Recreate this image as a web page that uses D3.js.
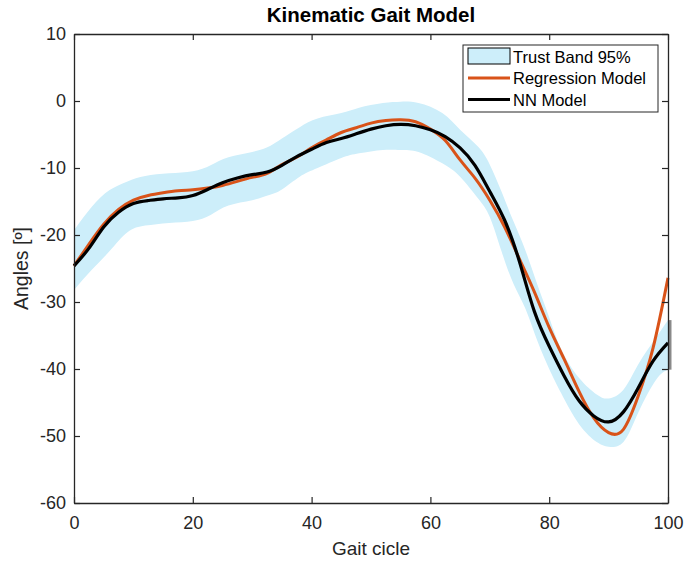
<!DOCTYPE html>
<html>
<head>
<meta charset="utf-8">
<script src="https://cdn.jsdelivr.net/npm/d3@7"></script>
<style>
body { margin:0; background:#fff; }
text { font-family: "Liberation Sans", Arial, Helvetica, sans-serif; }
</style>
</head>
<body>
<div id="chart"></div>
<script>
// gait cycle samples (%) for the two models
var cycle = [0,2.5,5,7.5,10,12.5,15,17.5,20,22.5,25,27.5,30,32.5,35,37.5,40,42.5,45,47.5,50,52.5,55,57.5,60,62.5,65,67.5,70,72.5,75,77.5,80,82.5,85,87.5,90,92.5,95,97.5,100]
var regression = [-24.6,-21.4,-18.4,-16.2,-14.8,-14.1,-13.7,-13.4,-13.25,-13.0,-12.6,-12.0,-11.4,-10.8,-9.5,-8.4,-7.0,-5.8,-4.7,-4.0,-3.3,-2.9,-2.8,-3.1,-4.2,-5.9,-8.8,-11.5,-14.8,-18.8,-23.6,-28.5,-33.8,-38.5,-43.3,-47.3,-49.5,-49.0,-44.0,-36.8,-26.4]
var nn = [-24.6,-22.0,-18.8,-16.6,-15.3,-14.85,-14.6,-14.45,-14.1,-13.2,-12.2,-11.5,-11.0,-10.6,-9.6,-8.3,-7.2,-6.2,-5.6,-4.9,-4.2,-3.7,-3.5,-3.7,-4.3,-5.3,-7.0,-9.6,-13.5,-17.8,-24.0,-31.4,-36.6,-41.0,-44.7,-47.0,-47.9,-46.4,-42.8,-38.8,-36.1]

// trust band 95%
var bandX = [0,3,6,9,12,16,20,23,26,30,33,35,38,41,45,48,52,55,58,62,65,68,70,72,74,76,78,80,82,85,88,90,92.5,95,98,100]
var bandUpper = [-19.3,-15.8,-13.3,-12.0,-11.2,-10.8,-10.5,-9.6,-8.4,-7.6,-6.7,-5.6,-3.9,-2.6,-1.8,-1.0,-0.3,-0.1,-0.3,-1.8,-4.3,-6.8,-9.5,-13.6,-18.0,-22.3,-27.4,-32.3,-37.0,-41.3,-43.8,-44.4,-43.1,-39.3,-35.3,-32.7]
var bandLower = [-28.2,-25.2,-22.4,-19.6,-18.6,-18.2,-17.9,-17.0,-15.6,-14.8,-14.0,-13.2,-11.3,-10.0,-8.5,-7.8,-7.3,-7.3,-7.6,-9.3,-11.3,-14.5,-17.3,-22.5,-27.3,-31.0,-35.8,-40.0,-43.6,-48.2,-50.9,-51.6,-50.9,-46.5,-41.6,-40.1]

var xTicks = [0,20,40,60,80,100]
var yTicks = [-60,-50,-40,-30,-20,-10,0,10]
var legendLabels = ["Trust Band 95%","Regression Model","NN Model"]

var width = 687
var height = 561
var plotLeft = 74, plotRight = 668, plotTop = 34, plotBottom = 503

var bandColor = "#cdeefa"
var orange = "#d95319"
var axisColor = "#262626"

var svg = d3.select("#chart").append("svg")
.attr("width",width)
.attr("height",height)

const x = d3.scaleLinear().domain([0,100]).range([plotLeft,plotRight])
const y = d3.scaleLinear().domain([-60,10]).range([plotBottom,plotTop])

var band = bandX.map((d,i)=>({x:d,lo:bandLower[i],hi:bandUpper[i]}))

svg.append("path")
.datum(band)
.attr("d",d3.area().curve(d3.curveNatural)
  .x(d=>x(d.x)).y0(d=>y(d.lo)).y1(d=>y(d.hi)))
.style("fill",bandColor)

// edge of the band at the end of the cycle
svg.append("line")
.attr("x1",x(100)+2).attr("x2",x(100)+2)
.attr("y1",y(bandLower[bandLower.length-1])).attr("y2",y(bandUpper[bandUpper.length-1]))
.style("stroke","#8a8a8a").style("stroke-width",3)

var line = d3.line().curve(d3.curveNatural)
.x((d,i)=>x(cycle[i])).y(d=>y(d))

svg.append("path").datum(regression)
.attr("d",line)
.style("fill","none").style("stroke",orange).style("stroke-width",3)

svg.append("path").datum(nn)
.attr("d",line)
.style("fill","none").style("stroke","#000").style("stroke-width",3.2)

// axes, box style with inward ticks
var ax = svg.append("g").style("font-size","18px").style("fill",axisColor)
var fmt = d=>String(d)

ax.append("g").attr("transform","translate(0,"+plotBottom+")")
.call(d3.axisBottom(x).tickValues(xTicks).tickSizeInner(-6).tickSizeOuter(0).tickPadding(13).tickFormat(fmt))
ax.append("g").attr("transform","translate(0,"+plotTop+")")
.call(d3.axisTop(x).tickValues(xTicks).tickSizeInner(-6).tickSizeOuter(0).tickFormat(""))
ax.append("g").attr("transform","translate("+plotLeft+",0)")
.call(d3.axisLeft(y).tickValues(yTicks).tickSizeInner(-6).tickSizeOuter(0).tickPadding(8).tickFormat(fmt))
ax.append("g").attr("transform","translate("+plotRight+",0)")
.call(d3.axisRight(y).tickValues(yTicks).tickSizeInner(-6).tickSizeOuter(0).tickFormat(""))

ax.selectAll(".domain").style("stroke",axisColor).style("stroke-width",1.3)
ax.selectAll(".tick line").style("stroke",axisColor).style("stroke-width",1.2)
ax.selectAll(".tick text").style("fill",axisColor).style("font-size","18px")
  .style("font-family","'Liberation Sans', Arial, sans-serif")

// labels
svg.append("text")
.attr("x",(plotLeft+plotRight)/2).attr("y",22)
.attr("text-anchor","middle")
.style("font-weight","bold").style("font-size","20.5px")
.text("Kinematic Gait Model")

svg.append("text")
.attr("x",(plotLeft+plotRight)/2).attr("y",555)
.attr("text-anchor","middle")
.style("font-size","19px").style("fill",axisColor)
.text("Gait cicle")

svg.append("text")
.attr("transform","translate(28,"+((plotTop+plotBottom)/2)+")rotate(-90)")
.attr("text-anchor","middle")
.style("font-size","19.5px").style("fill",axisColor)
.text("Angles [º]")

// legend
var lg = svg.append("g")
lg.append("rect")
.attr("x",463).attr("y",45).attr("width",195).attr("height",67)
.style("fill","#fff").style("stroke",axisColor).style("stroke-width",1)

lg.append("rect")
.attr("x",468).attr("y",48).attr("width",42).attr("height",16)
.style("fill",bandColor).style("stroke","#000").style("stroke-width",1)
lg.append("line").attr("x1",468).attr("x2",510).attr("y1",78).attr("y2",78)
.style("stroke",orange).style("stroke-width",3)
lg.append("line").attr("x1",468).attr("x2",510).attr("y1",99.5).attr("y2",99.5)
.style("stroke","#000").style("stroke-width",3.2)

lg.selectAll("text.lab")
.data(legendLabels)
.enter()
.append("text")
.attr("class","lab")
.attr("x",513)
.attr("y",(d,i)=>57+i*21.5)
.attr("dy","0.35em")
.style("font-size","16.5px")
.style("fill","#000")
.text(d=>d)
</script>
</body>
</html>
